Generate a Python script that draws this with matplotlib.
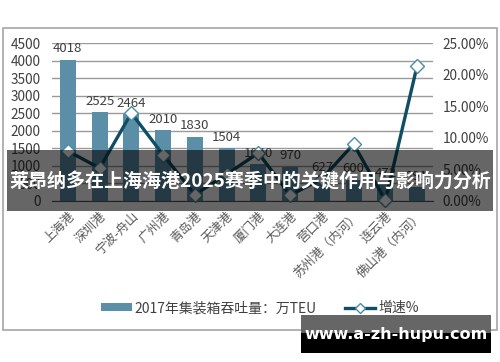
import matplotlib
matplotlib.use('Agg')
import matplotlib.pyplot as plt
from matplotlib.patches import Rectangle
from matplotlib.ticker import PercentFormatter

plt.rcParams['font.family'] = ['Noto Sans CJK SC', 'DejaVu Sans']

ports = ['上海港', '深圳港', '宁波-舟山', '广州港', '青岛港', '天津港', '厦门港',
         '大连港', '营口港', '苏州港（内河）', '连云港', '佛山港（内河）']
teu = [4018, 2525, 2464, 2010, 1830, 1504, 1040, 970, 627, 600, 472, 391]
growth = [7.9, 5.2, 13.9, 7.3, 1.0, 4.2, 7.6, 0.9, 3.5, 9.0, 0.1, 21.4]

BAR = '#5A8FA7'
LINE = '#0F4E63'
TXT = '#404040'

fig = plt.figure(figsize=(5.0, 3.62), dpi=100)
ax = fig.add_axes([0.104, 0.445, 0.762, 0.436])
ax2 = ax.twinx()

x = list(range(len(ports)))
ax.bar(x, teu, width=0.5, color=BAR, zorder=2, label='2017年集装箱吞吐量：万TEU')
for xi, v in zip(x, teu):
  ax.text(xi, v + 130, str(v), ha='center', va='bottom', fontsize=9.5, color=TXT, zorder=3)

ax2.plot(x, growth, color=LINE, lw=2.4, marker='D', ms=7, mfc='white',
         mec='#4C8DA6', mew=1.0, clip_on=False, label='增速%')

ax.set_xlim(-0.5, len(ports) - 0.5)
ax.set_ylim(0, 4500)
ax.set_yticks(range(0, 4501, 500))
ax2.set_ylim(0, 25)
ax2.set_yticks(range(0, 26, 5))
ax2.yaxis.set_major_formatter(PercentFormatter(decimals=2))

ax.grid(axis='y', color='#9a9a9a', lw=1, zorder=0)
ax.set_axisbelow(True)
for a in (ax, ax2):
  for s in a.spines.values():
    s.set_visible(False)
  a.tick_params(length=0, labelsize=9.8, labelcolor=TXT)
ax.spines['bottom'].set_visible(True)
ax.spines['bottom'].set_color('#595959')
ax.tick_params(axis='y', pad=8)
ax2.tick_params(axis='y', pad=7)

ax.set_xticks(x)
ax.set_xticklabels(ports, rotation=45, ha='right', va='top', rotation_mode='anchor',
                   fontsize=9, color='#595959')
ax.tick_params(axis='x', pad=6)

h1, l1 = ax.get_legend_handles_labels()
h2, l2 = ax2.get_legend_handles_labels()
fig.legend(h1 + h2, l1 + l2, loc='center', bbox_to_anchor=(0.52, 0.149), ncol=2,
           frameon=False, fontsize=10, labelcolor=TXT, handlelength=2.2,
           handleheight=0.5, handletextpad=0.2, columnspacing=2.0, markerscale=0.8)

# chart frame
fig.add_artist(Rectangle((0.006, 0.088), 0.988, 0.835, transform=fig.transFigure,
                         fill=False, ec='#a6a6a6', lw=1.2, zorder=5))

# title band
fig.add_artist(Rectangle((0.014, 1 - 211 / 362), 0.972, 61 / 362, transform=fig.transFigure,
                         fc='black', alpha=0.6, ec='none', zorder=10))
fig.text(0.5, 1 - 182 / 362, '莱昂纳多在上海海港2025赛季中的关键作用与影响力分析',
         ha='center', va='center', color='white', fontsize=13.7, fontweight='bold', zorder=11)

# watermark
fig.add_artist(Rectangle((301 / 500, 1 - 333 / 362), 190 / 500, 18 / 362, transform=fig.transFigure,
                         fc='#666666', ec='none', zorder=10))
fig.add_artist(Rectangle((301 / 500, 1 - 353 / 362), 190 / 500, 20 / 362, transform=fig.transFigure,
                         fc='black', ec='none', zorder=10))
fig.text(396 / 500, 1 - 335 / 362, 'www.a-zh-hupu.com', ha='center', va='center',
         color='white', fontsize=11.5, fontweight='bold', family='DejaVu Sans', zorder=11)

fig.savefig('out.png', dpi=100)
